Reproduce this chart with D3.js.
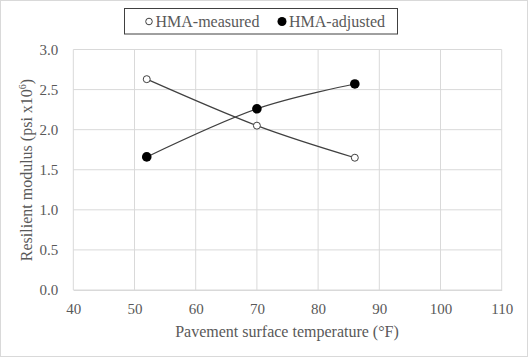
<!DOCTYPE html>
<html><head><meta charset="utf-8">
<script src="https://cdn.jsdelivr.net/npm/d3@7"></script>
<style>html,body{margin:0;padding:0;background:#fff;}svg{display:block;}
svg text{font-family:"Liberation Serif","Times New Roman",Tinos,"DejaVu Serif",serif;}</style>
</head><body>
<script>
const temperatures = [52, 70, 86];
const measured = [2.63, 2.05, 1.65];
const adjusted = [1.66, 2.26, 2.57];
const xTicks = [40, 50, 60, 70, 80, 90, 100, 110];
const yTicks = [0.0, 0.5, 1.0, 1.5, 2.0, 2.5, 3.0];
const seriesNames = ["HMA-measured", "HMA-adjusted"];

const W = 529, H = 358;
const svg = d3.select("body").append("svg").attr("width", W).attr("height", H);
svg.append("rect").attr("x", 0.5).attr("y", 0.5).attr("width", W - 2).attr("height", H - 2)
  .attr("fill", "#fff").attr("stroke", "#d9d9d9");

const x = d3.scaleLinear().domain([40, 110]).range([73.3, 501.7]);
const y = d3.scaleLinear().domain([0, 3]).range([290, 49.5]);
const textColor = "#595959";

// gridlines
svg.append("g").selectAll("line").data(xTicks).join("line")
  .attr("x1", d => x(d)).attr("x2", d => x(d)).attr("y1", y(0)).attr("y2", y(3))
  .attr("stroke", "#d9d9d9").attr("stroke-width", 1);
svg.append("g").selectAll("line").data(yTicks).join("line")
  .attr("x1", x(40)).attr("x2", x(110)).attr("y1", d => y(d)).attr("y2", d => y(d))
  .attr("stroke", "#d9d9d9").attr("stroke-width", 1);

// axes
const xAxis = svg.append("g").attr("transform", `translate(0,${y(0)})`)
  .call(d3.axisBottom(x).tickValues(xTicks).tickSize(0).tickPadding(13).tickFormat(d3.format("d")));
xAxis.select(".domain").attr("stroke", "#d9d9d9");
xAxis.selectAll("text").attr("font-family", null).attr("font-size", 15).attr("fill", textColor);

const yAxis = svg.append("g").attr("transform", `translate(${x(40)},0)`)
  .call(d3.axisLeft(y).tickValues(yTicks).tickSize(0).tickPadding(15).tickFormat(d3.format(".1f")));
yAxis.select(".domain").attr("stroke", "none");
yAxis.selectAll("text").attr("font-size", 15).attr("fill", textColor);
xAxis.attr("font-family", null);
yAxis.attr("font-family", null);

// axis titles
svg.append("text").attr("x", 287).attr("y", 337).attr("text-anchor", "middle")
  .attr("font-size", 16).attr("fill", textColor)
  .text("Pavement surface temperature (°F)");
const yt = svg.append("text").attr("transform", "translate(32,170) rotate(-90)")
  .attr("text-anchor", "middle").attr("font-size", 16).attr("fill", textColor);
yt.append("tspan").text("Resilient modulus (psi x10");
yt.append("tspan").attr("font-size", 10).attr("dy", -6).text("6");
yt.append("tspan").attr("dy", 6).text(")");

// lines
const line = d3.line().x(d => x(d[0])).y(d => y(d[1])).curve(d3.curveCardinal.tension(0));
const mData = temperatures.map((t, i) => [t, measured[i]]);
const aData = temperatures.map((t, i) => [t, adjusted[i]]);
svg.append("path").attr("d", line(mData)).attr("fill", "none").attr("stroke", "#404040").attr("stroke-width", 1.2);
svg.append("path").attr("d", line(aData)).attr("fill", "none").attr("stroke", "#404040").attr("stroke-width", 1.2);

svg.append("g").selectAll("circle").data(mData).join("circle")
  .attr("cx", d => x(d[0])).attr("cy", d => y(d[1])).attr("r", 3.5)
  .attr("fill", "#fff").attr("stroke", "#404040").attr("stroke-width", 1);
svg.append("g").selectAll("circle").data(aData).join("circle")
  .attr("cx", d => x(d[0])).attr("cy", d => y(d[1])).attr("r", 4.8)
  .attr("fill", "#000");

// legend
svg.append("rect").attr("x", 124.5).attr("y", 8.5).attr("width", 273).attr("height", 25.5)
  .attr("fill", "#fff").attr("stroke", "#404040").attr("stroke-width", 1);
svg.append("circle").attr("cx", 149).attr("cy", 21.5).attr("r", 3.3)
  .attr("fill", "#fff").attr("stroke", "#404040");
svg.append("text").attr("x", 155.5).attr("y", 27).attr("font-size", 16)
  .attr("fill", textColor).text(seriesNames[0]);
svg.append("circle").attr("cx", 282).attr("cy", 21.5).attr("r", 4.5).attr("fill", "#000");
svg.append("text").attr("x", 289).attr("y", 27).attr("font-size", 16)
  .attr("fill", textColor).text(seriesNames[1]);
</script>
</body></html>
